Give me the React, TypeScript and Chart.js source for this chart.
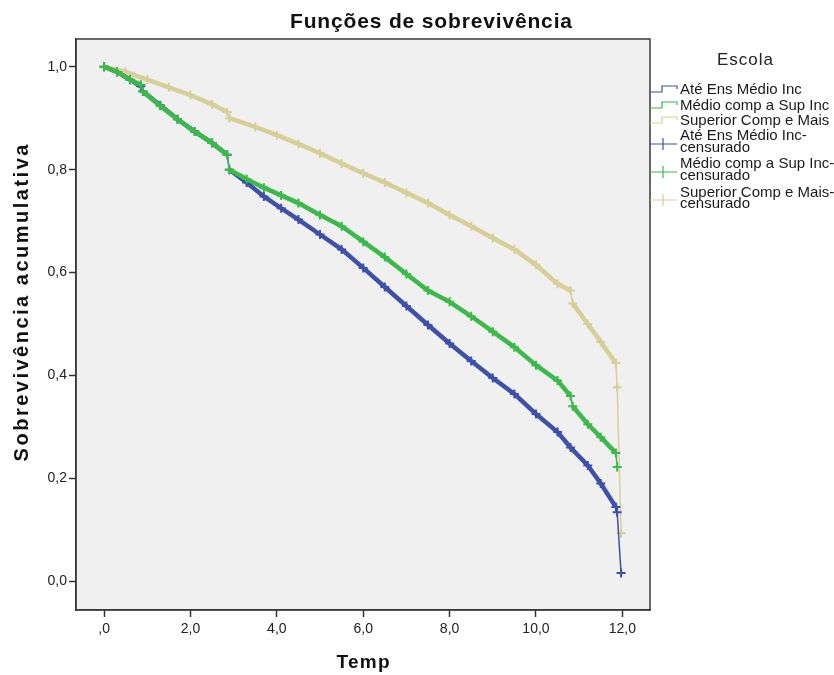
import React, { useEffect, useRef } from 'react';
import { Chart, registerables } from 'chart.js';

Chart.register(...registerables);

const FONT = '"Liberation Sans", Arial, Helvetica, sans-serif';

const chartTitle = 'Funções de sobrevivência';
const xAxisTitle = 'Temp';
const yAxisTitle = 'Sobrevivência acumulativa';
const legendTitle = 'Escola';

const xTickValues = [0, 2, 4, 6, 8, 10, 12];
const xTickLabels = [',0', '2,0', '4,0', '6,0', '8,0', '10,0', '12,0'];
const yTickValues = [0, 0.2, 0.4, 0.6, 0.8, 1.0];
const yTickLabels = ['0,0', '0,2', '0,4', '0,6', '0,8', '1,0'];

const seriesNames = ['Até Ens Médio Inc', 'Médio comp a Sup Inc', 'Superior Comp e Mais'];
const censoredNames = [
  ['Até Ens Médio Inc-', 'censurado'],
  ['Médio comp a Sup Inc-', 'censurado'],
  ['Superior Comp e Mais-', 'censurado'],
];
const seriesColors = ['#3e50a8', '#3bb94a', '#d6cf98'];

// Até Ens Médio Inc
const blueTime = [0, 0.3, 0.6, 0.85, 0.9, 1.3, 1.7, 2.1, 2.5, 2.85, 2.9, 3.3, 3.7, 4.1, 4.5, 5.0, 5.5, 6.0, 6.5, 7.0, 7.5, 8.0, 8.5, 9.0, 9.5, 10.0, 10.5, 10.8, 11.2, 11.5, 11.85, 11.88, 11.97];
const blueSurv = [1.0, 0.99, 0.975, 0.962, 0.952, 0.925, 0.898, 0.874, 0.852, 0.829, 0.8, 0.775, 0.748, 0.725, 0.703, 0.674, 0.645, 0.609, 0.572, 0.535, 0.498, 0.462, 0.428, 0.395, 0.364, 0.325, 0.29, 0.26, 0.225, 0.19, 0.144, 0.134, 0.016];

// Médio comp a Sup Inc
const greenTime = [0, 0.3, 0.6, 0.85, 0.9, 1.3, 1.7, 2.1, 2.5, 2.85, 2.9, 3.3, 3.7, 4.1, 4.5, 5.0, 5.5, 6.0, 6.5, 7.0, 7.5, 8.0, 8.5, 9.0, 9.5, 10.0, 10.5, 10.8, 10.85, 11.2, 11.5, 11.85, 11.88];
const greenSurv = [1.0, 0.99, 0.975, 0.965, 0.952, 0.924, 0.898, 0.874, 0.852, 0.829, 0.8, 0.782, 0.765, 0.75, 0.735, 0.712, 0.69, 0.66, 0.63, 0.597, 0.565, 0.543, 0.515, 0.485, 0.455, 0.42, 0.39, 0.36, 0.34, 0.305, 0.28, 0.249, 0.222];

// Superior Comp e Mais
const beigeTime = [0, 0.5, 1.0, 1.5, 2.0, 2.5, 2.85, 2.9, 3.5, 4.0, 4.5, 5.0, 5.5, 6.0, 6.5, 7.0, 7.5, 8.0, 8.5, 9.0, 9.5, 10.0, 10.5, 10.8, 10.85, 11.2, 11.5, 11.85, 11.88, 11.97];
const beigeSurv = [1.0, 0.99, 0.975, 0.96, 0.945, 0.927, 0.912, 0.9, 0.883, 0.867, 0.85, 0.832, 0.812, 0.793, 0.775, 0.755, 0.735, 0.712, 0.69, 0.667, 0.645, 0.615, 0.578, 0.565, 0.54, 0.5, 0.465, 0.424, 0.377, 0.093];

function spacedText(ctx: CanvasRenderingContext2D, text: string, x: number, y: number, font: string, target: number, align: 'left' | 'center') {
  ctx.font = font;
  (ctx as any).letterSpacing = '0px';
  const w = ctx.measureText(text).width;
  const sp = text.length > 1 ? Math.max(0, Math.min(2.5, (target - w) / (text.length - 1))) : 0;
  (ctx as any).letterSpacing = sp + 'px';
  const total = w + sp * (text.length - 1);
  const sx = align === 'center' ? x - total / 2 : x;
  ctx.textAlign = 'left';
  ctx.fillText(text, sx, y);
  (ctx as any).letterSpacing = '0px';
  return sp;
}

const decor = {
  id: 'decor',
  beforeDraw(chart: any) {
    const { ctx, chartArea: a } = chart;
    ctx.save();
    ctx.fillStyle = '#ffffff';
    ctx.fillRect(0, 0, chart.width, chart.height);
    ctx.fillStyle = '#f0f0f0';
    ctx.fillRect(a.left, a.top, a.right - a.left, a.bottom - a.top);
    ctx.restore();
  },
  afterDraw(chart: any) {
    const { ctx, chartArea: a } = chart;
    ctx.save();
    ctx.strokeStyle = '#3a3a3a';
    ctx.lineWidth = 1.5;
    ctx.strokeRect(a.left, a.top, a.right - a.left, a.bottom - a.top);

    ctx.fillStyle = '#111';
    ctx.textBaseline = 'alphabetic';
    spacedText(ctx, chartTitle, 431, 28, `bold 21px ${FONT}`, 282, 'center');
    spacedText(ctx, xAxisTitle, (a.left + a.right) / 2, 668, `bold 19px ${FONT}`, 53, 'center');

    ctx.save();
    ctx.translate(21, 303);
    ctx.rotate(-Math.PI / 2);
    spacedText(ctx, yAxisTitle, 0, 7, `bold 20px ${FONT}`, 317, 'center');
    ctx.restore();

    // legend
    ctx.fillStyle = '#222';
    spacedText(ctx, legendTitle, 745, 65, `17px ${FONT}`, 56, 'center');

    const drawLegendText = (t: string, y: number) => {
      ctx.font = `15px ${FONT}`;
      (ctx as any).letterSpacing = '0px';
      ctx.textAlign = 'left';
      ctx.fillStyle = '#1a1a1a';
      ctx.fillText(t, 680, y);
    };
    const lineRows = [89, 105, 120];
    lineRows.forEach((c, i) => {
      ctx.strokeStyle = seriesColors[i];
      ctx.lineWidth = 1.2;
      ctx.beginPath();
      ctx.moveTo(650, c + 3);
      ctx.lineTo(662, c + 3);
      ctx.lineTo(662, c - 3);
      ctx.lineTo(677, c - 3);
      ctx.lineTo(677, c);
      ctx.stroke();
      drawLegendText(seriesNames[i], c + 5);
    });
    const censRows = [[135, 147], [163, 175], [192, 203]];
    censRows.forEach((r, i) => {
      const cy = r[1] - 3;
      ctx.strokeStyle = seriesColors[i];
      ctx.lineWidth = 1.2;
      ctx.beginPath();
      ctx.moveTo(650, cy);
      ctx.lineTo(677, cy);
      ctx.moveTo(663, cy - 6);
      ctx.lineTo(663, cy + 6);
      ctx.stroke();
      drawLegendText(censoredNames[i][0], r[0] + 5);
      drawLegendText(censoredNames[i][1], r[1] + 5);
    });
    ctx.restore();
  },
};

function makeSet(label: string, t: number[], s: number[], color: string, order: number) {
  return {
    label,
    data: t.map((x, i) => ({ x, y: s[i] })),
    borderColor: color,
    backgroundColor: color,
    borderWidth: 4.5,
    pointStyle: 'cross',
    pointRadius: 4.5,
    pointBorderWidth: 2,
    pointBorderColor: color,
    pointHoverRadius: 4.5,
    tension: 0,
    order,
    segment: {
      borderWidth: (c: any) => (Math.abs(c.p1.parsed.x - c.p0.parsed.x) < 0.1 ? 1.5 : 4.5),
    },
  };
}

export default function App() {
  const ref = useRef<HTMLCanvasElement>(null);
  useEffect(() => {
    document.body.style.margin = '0';
    const canvas = ref.current!;
    const chart = new Chart(canvas, {
      type: 'line',
      data: {
        datasets: [
          makeSet(seriesNames[0], blueTime, blueSurv, seriesColors[0], 1),
          makeSet(seriesNames[1], greenTime, greenSurv, seriesColors[1], 0),
          makeSet(seriesNames[2], beigeTime, beigeSurv, seriesColors[2], 2),
        ] as any,
      },
      options: {
        animation: false,
        responsive: false,
        events: [],
        layout: { padding: { left: 0, right: 184, top: 39, bottom: 0 } },
        plugins: { legend: { display: false }, tooltip: { enabled: false }, title: { display: false } },
        scales: {
          x: {
            type: 'linear',
            min: -0.65,
            max: 12.64,
            afterBuildTicks: (s: any) => { s.ticks = xTickValues.map((v) => ({ value: v })); },
            afterFit: (s: any) => { s.height = 65; },
            ticks: {
              callback: (_v: any, i: number) => xTickLabels[i],
              font: { family: FONT, size: 14 },
              color: '#222',
              padding: 4,
              maxRotation: 0,
              autoSkip: false,
            },
            grid: { drawOnChartArea: false, drawTicks: true, tickLength: 7, tickWidth: 1.5, tickColor: '#333' },
            border: { display: true, color: '#3a3a3a', width: 1.5 },
          },
          y: {
            type: 'linear',
            min: -0.056,
            max: 1.054,
            afterBuildTicks: (s: any) => { s.ticks = yTickValues.map((v) => ({ value: v })); },
            afterFit: (s: any) => { s.width = 76; },
            ticks: {
              callback: (_v: any, i: number) => yTickLabels[i],
              font: { family: FONT, size: 14 },
              color: '#222',
              padding: 2,
              autoSkip: false,
            },
            grid: { drawOnChartArea: false, drawTicks: true, tickLength: 7, tickWidth: 1.5, tickColor: '#333' },
            border: { display: true, color: '#3a3a3a', width: 1.5 },
          },
        },
      },
      plugins: [decor],
    } as any);
    return () => chart.destroy();
  }, []);
  return <canvas ref={ref} width={834} height={675} style={{ display: 'block', width: 834, height: 675 }} />;
}
